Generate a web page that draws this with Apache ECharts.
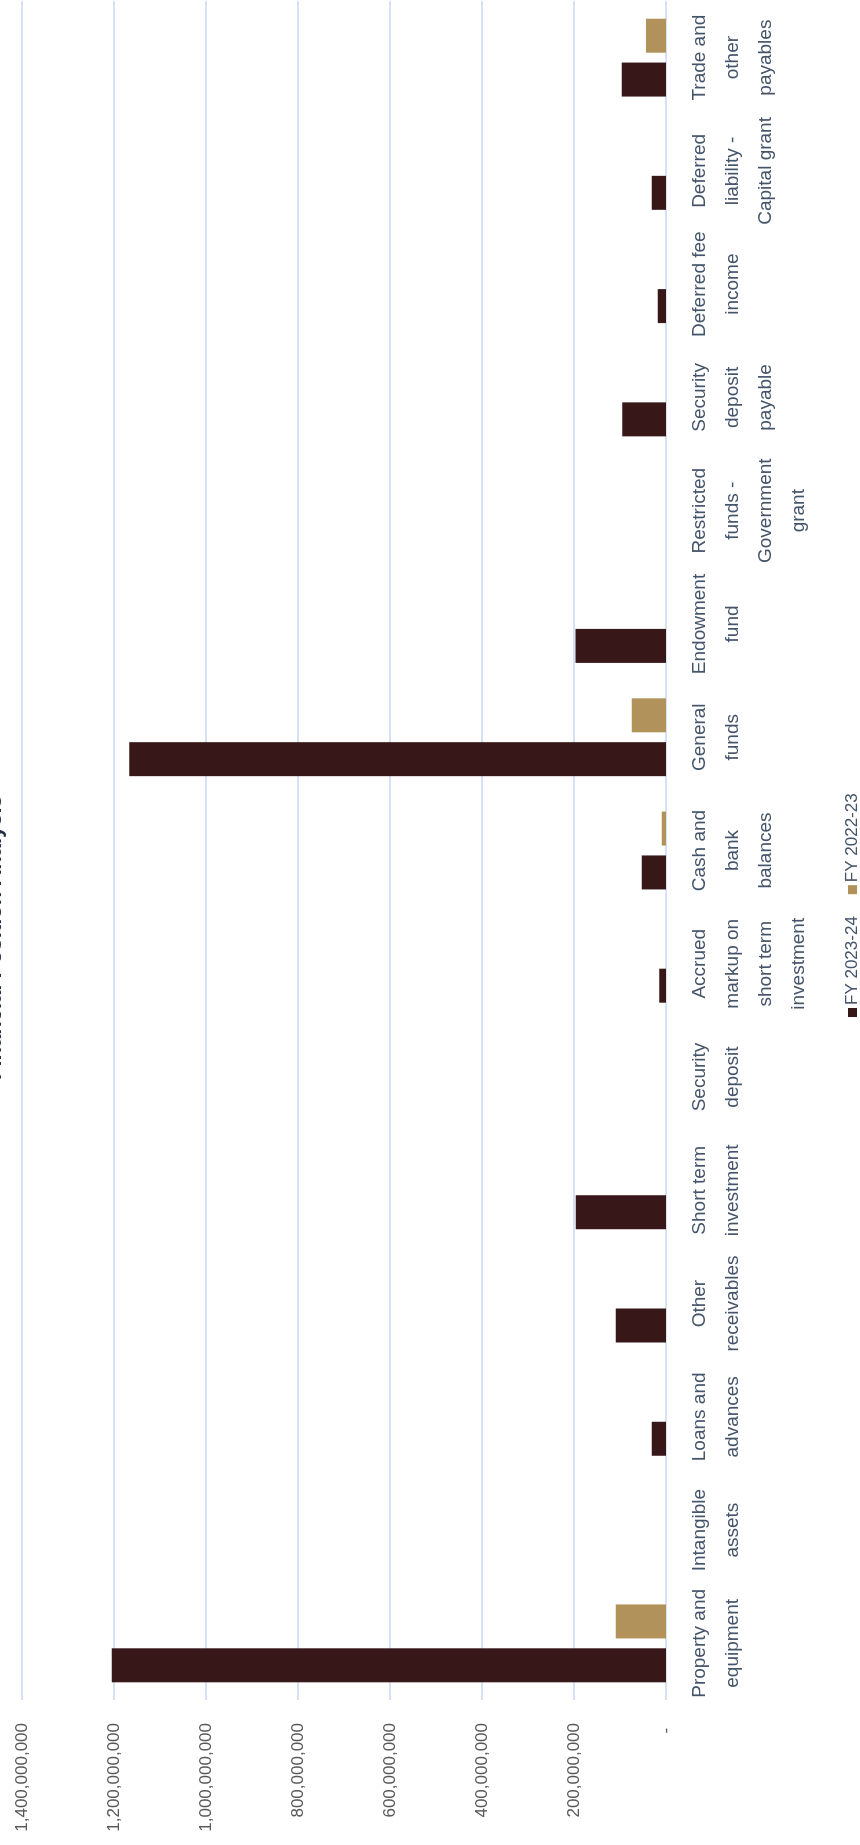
<!DOCTYPE html>
<html>
<head>
<meta charset="utf-8">
<script src="https://cdn.jsdelivr.net/npm/echarts@6/dist/echarts.min.js"></script>
<style>
  html, body { margin: 0; padding: 0; background: #ffffff; overflow: hidden; width: 860px; height: 1845px; }
  #chart { position: absolute; left: 0; top: 0; width: 1845px; height: 860px;
           transform-origin: 0 0; transform: translate(0px, 1845px) rotate(-90deg); }
</style>
</head>
<body>
<div id="chart"></div>
<script>
const titleText = 'Financial Position Analysis';
const categories = [
  'Property and\nequipment',
  'Intangible\nassets',
  'Loans and\nadvances',
  'Other\nreceivables',
  'Short term\ninvestment',
  'Security\ndeposit',
  'Accrued\nmarkup on\nshort term\ninvestment',
  'Cash and\nbank\nbalances',
  'General\nfunds',
  'Endowment\nfund',
  'Restricted\nfunds -\nGovernment\ngrant',
  'Security\ndeposit\npayable',
  'Deferred fee\nincome',
  'Deferred\nliability -\nCapital grant',
  'Trade and\nother\npayables'
];
const seriesNames = ['FY 2023-24', 'FY 2022-23'];
const fy2024 = [1205000000, 0, 31000000, 109000000, 196000000, 0, 14500000, 52800000, 1167000000, 197000000, 0, 95000000, 18000000, 31000000, 96000000];
const fy2023 = [109000000, 0, 0, 0, 0, 0, 0, 9300000, 74600000, 0, 0, 0, 0, 0, 43500000];
const valueTicks = { min: 0, max: 1400000000, interval: 200000000 };

const sans = "'Liberation Sans', Arial, sans-serif";
const chart = echarts.init(document.getElementById('chart'), null, { renderer: 'canvas' });
chart.setOption({
  animation: false,
  backgroundColor: '#ffffff',
  title: {
    text: titleText,
    left: 765,
    top: -16,
    padding: 0,
    textStyle: { fontFamily: sans, fontSize: 22, fontWeight: 'bold', color: '#1f2d45', lineHeight: 22 }
  },
  legend: {
    data: seriesNames,
    left: 823,
    top: 839,
    icon: 'rect',
    itemWidth: 9,
    itemHeight: 9,
    itemGap: 22,
    textStyle: { fontFamily: sans, fontSize: 17, color: '#44546a', padding: [0, 0, 0, -2] }
  },
  grid: { left: 145, right: 1, top: 22, bottom: 194, containLabel: false },
  xAxis: {
    type: 'category',
    data: categories,
    axisLine: { show: false },
    axisTick: { show: false },
    axisLabel: { interval: 0, fontFamily: sans, fontSize: 19, lineHeight: 33, color: '#44546a', margin: 17 }
  },
  yAxis: {
    type: 'value',
    min: valueTicks.min,
    max: valueTicks.max,
    interval: valueTicks.interval,
    axisLine: { show: false },
    axisTick: { show: false },
    splitLine: { lineStyle: { color: '#c6d9f1', width: 1.5 } },
    axisLabel: {
      margin: 23,
      fontFamily: sans,
      fontSize: 17,
      color: '#595959',
      formatter: function (v) { return v === 0 ? '- ' : v.toLocaleString('en-US'); }
    }
  },
  series: [
    { name: seriesNames[0], type: 'bar', data: fy2024, barWidth: 34, barGap: '29%', itemStyle: { color: '#381719' } },
    { name: seriesNames[1], type: 'bar', data: fy2023, barWidth: 34, barGap: '29%', itemStyle: { color: '#b1925a' } }
  ]
});
</script>
</body>
</html>
